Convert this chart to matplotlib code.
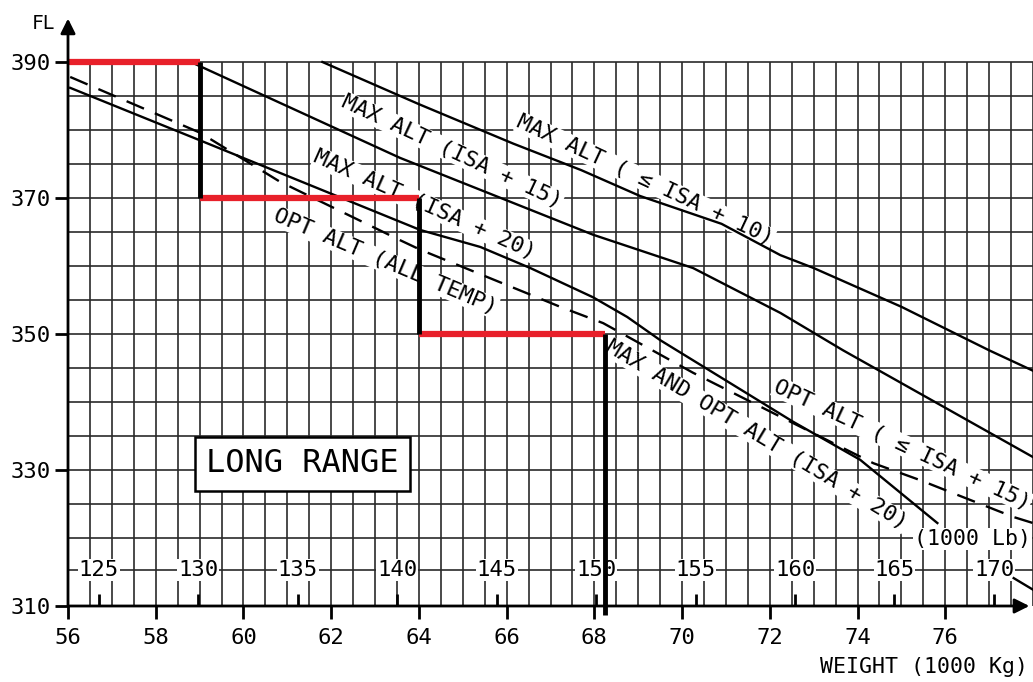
import numpy as np
import matplotlib
matplotlib.use('Agg')
import matplotlib.pyplot as plt

# ---- data (weight in 1000 kg, flight level) ----
isa10_w = [61.8, 64.0, 66.15, 67.7, 69.04, 70.9, 72.24, 73.0, 75.0, 77.0, 78.0]
isa10_fl = [390, 383.8, 378.0, 374.1, 370.3, 366.2, 361.6, 359.7, 354.0, 347.6, 344.6]

isa15_w = [58.8, 63.57, 65.4, 67.97, 70.25, 72.24, 73.67, 78.0]
isa15_fl = [390, 375.9, 371.2, 364.6, 359.7, 353.1, 347.6, 331.9]

isa20_w = [56.05, 59.0, 60.83, 64.03, 65.4, 66.54, 67.97, 68.75, 69.5, 72.53, 74.06, 75.82]
isa20_fl = [386.2, 378.5, 373.7, 365.3, 362.8, 359.7, 355.4, 352.5, 349.1, 337.1, 331.5, 322.2]

opt_w = [56.05, 59.01, 60.83, 63.57, 64.03, 67.22, 68.2, 70.25, 72.53, 74.36, 75.43, 76.41, 77.55, 78.0]
opt_fl = [387.8, 379.6, 372.4, 363.8, 362.4, 354.0, 351.6, 344.3, 336.9, 331.0, 328.5, 326.0, 323.1, 322.2]

extra_w = [77.56, 78.0]
extra_fl = [314.1, 312.4]

# step-climb profile
step_w = [56.0, 59.0, 59.0, 64.0, 64.0, 68.25]
step_fl = [390, 390, 370, 370, 350, 350]

lb_labels = [125, 130, 135, 140, 145, 150, 155, 160, 165, 170]
x_ticks = [56, 58, 60, 62, 64, 66, 68, 70, 72, 74, 76]
y_ticks = [310, 330, 350, 370, 390]

mono = 'DejaVu Sans Mono'

fig = plt.figure(figsize=(10.33, 6.82), dpi=100)
ax = fig.add_axes([68/1033, 1-606/682, 1-68/1033, (606-14.4)/682])
ax.set_xlim(56, 78)
ax.set_ylim(310, 397)
for s in ax.spines.values():
    s.set_visible(False)

# grid
gcol = '#2a2a2a'
ax.vlines(np.arange(56.5, 78.01, 0.5), 310, 390, color=gcol, lw=1.2, zorder=1)
ax.hlines(np.arange(320, 390.1, 5), 56, 78, color=gcol, lw=1.2, zorder=1)
ax.hlines(315.3, 56, 78, color=gcol, lw=1.2, zorder=1)

# axes with arrows
ax.annotate('', xy=(56, 396.8), xytext=(56, 309.5),
            arrowprops=dict(arrowstyle='-|>', mutation_scale=22, lw=2, color='k'),
            annotation_clip=False, zorder=6)
ax.annotate('', xy=(77.98, 310), xytext=(55.95, 310),
            arrowprops=dict(arrowstyle='-|>', mutation_scale=22, lw=2, color='k'),
            annotation_clip=False, zorder=6)

ax.set_xticks(x_ticks)
ax.set_yticks(y_ticks)
ax.tick_params(axis='both', length=9.5, width=2, color='k', labelsize=16)
ax.tick_params(axis='x', pad=6)
ax.tick_params(axis='y', pad=3)
for lab in ax.get_xticklabels() + ax.get_yticklabels():
    lab.set_family(mono)

# pound scale
lb_kg = np.array(lb_labels) * 0.45359
ax.vlines(lb_kg, 310, 311.8, color='k', lw=2, zorder=3)
for lb, kg in zip(lb_labels, lb_kg):
    ax.text(kg, 315.3, str(lb), ha='center', va='center', fontsize=16, family=mono,
            bbox=dict(fc='white', ec='none', pad=0.6), zorder=2)
ax.text(77.95, 319.9, '(1000 Lb)', ha='right', va='center', fontsize=15.5, family=mono,
        bbox=dict(fc='white', ec='none', pad=0.6), zorder=2)

# curves
ax.plot(isa10_w, isa10_fl, color='k', lw=1.7, zorder=3)
ax.plot(isa15_w, isa15_fl, color='k', lw=1.7, zorder=3)
ax.plot(isa20_w, isa20_fl, color='k', lw=1.7, zorder=3)
ax.plot(opt_w, opt_fl, color='k', lw=1.7, ls=(0, (8, 5)), zorder=3)
ax.plot(extra_w, extra_fl, color='k', lw=1.7, zorder=3)

# curve labels
lbl = dict(ha='center', va='center', fontsize=16, family=mono, rotation_mode='anchor',
           bbox=dict(fc='white', ec='none', pad=0.5), zorder=2)
ax.text(69.16, 372.6, 'MAX ALT ( \u2264 ISA + 10)', rotation=-25, **lbl)
ax.text(64.76, 376.8, 'MAX ALT (ISA + 15)', rotation=-25, **lbl)
ax.text(64.14, 369.0, 'MAX ALT (ISA + 20)', rotation=-24, **lbl)
ax.text(63.23, 360.6, 'OPT ALT (ALL TEMP)', rotation=-23, **lbl)
ax.text(71.71, 335.1, 'MAX AND OPT ALT (ISA + 20)', rotation=-31, **lbl)
ax.text(75.02, 333.7, 'OPT ALT ( \u2264 ISA + 15)', rotation=-25, **lbl)

# step climb: red levels, black climbs
for i in range(0, len(step_w), 2):
    ax.plot(step_w[i:i+2], step_fl[i:i+2], color='#e8202a', lw=4.5,
            solid_capstyle='butt', zorder=5)
for i in range(1, len(step_w) - 1, 2):
    ax.plot(step_w[i:i+2], step_fl[i:i+2], color='k', lw=3.5,
            solid_capstyle='butt', zorder=5)
ax.plot([step_w[-1], step_w[-1]], [step_fl[-1], 308.7], color='k', lw=3.5,
        solid_capstyle='butt', zorder=5, clip_on=False)

# box label
ax.text(61.34, 330.9, 'LONG RANGE', ha='center', va='center', fontsize=23, family=mono,
        bbox=dict(fc='white', ec='k', lw=1.8, boxstyle='square,pad=0.35'), zorder=4)

ax.text(55.45, 395.6, 'FL', ha='center', va='center', fontsize=14, family=mono,
        clip_on=False)
ax.text(77.88, 301.0, 'WEIGHT (1000 Kg)', ha='right', va='center', fontsize=15.5,
        family=mono, clip_on=False)

fig.savefig('out.png', dpi=100)
